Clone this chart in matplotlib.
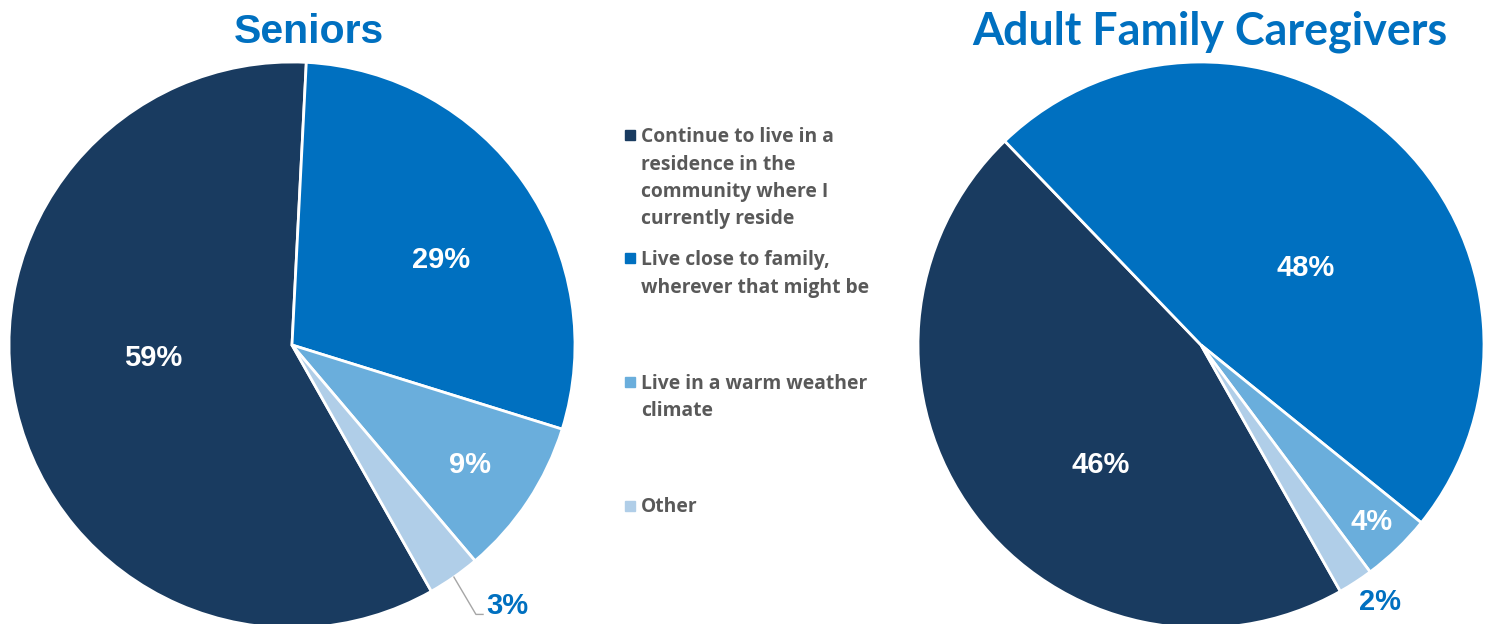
import numpy as np
import matplotlib.pyplot as plt

# data
categories = [
    ["Continue to live in a", "residence in the", "community where I", "currently reside"],
    ["Live close to family,", "wherever that might be"],
    ["Live in a warm weather", "climate"],
    ["Other"],
]
seniors = [59, 29, 9, 3]
caregivers = [46, 48, 4, 2]
titles = ["Seniors", "Adult Family Caregivers"]

colors = ["#193B60", "#0070C0", "#6AAEDC", "#B0CEE8"]
gray = "#595959"
blue = "#0070C0"

W, H = 1493, 624
fig = plt.figure(figsize=(W / 100, H / 100), dpi=100)


def px_axes(cx, cy, r):
    return fig.add_axes([(cx - r) / W, (H - cy - r) / H, 2 * r / W, 2 * r / H])


# label positions in radius units relative to centre (layout only)
label_pos = [
    [(-0.49, -0.046), (0.527, 0.30), (0.629, -0.424), (0.76, -0.922)],
    [(-0.353, -0.424), (0.371, 0.272), (0.604, -0.625), (0.633, -0.908)],
]
outside = [[False, False, False, True], [False, False, False, True]]

centres = [(292, 345), (1201, 345)]
R = 283
for k, vals in enumerate([seniors, caregivers]):
    cx, cy = centres[k]
    ax = px_axes(cx, cy, R)
    wedges, _ = ax.pie(vals, colors=colors, startangle=-60.5, counterclock=False,
                       radius=1.0, wedgeprops=dict(edgecolor="white", linewidth=2))
    ax.set_xlim(-1, 1)
    ax.set_ylim(-1, 1)
    ax.axis("off")
    for i, (v, w) in enumerate(zip(vals, wedges)):
        x, y = label_pos[k][i]
        col = blue if outside[k][i] else "white"
        ax.text(x, y, f"{v}%", ha="center", va="center", fontsize=21,
                fontweight="bold", color=col, family="Liberation Sans",
                clip_on=False)
    if k == 0:
        # leader line for the small slice
        w = wedges[3]
        mid = np.deg2rad((w.theta1 + w.theta2) / 2)
        x0, y0 = np.cos(mid) * 1.0, np.sin(mid) * 1.0
        lx, ly = label_pos[k][3]
        ax.plot([x0, lx - 0.11, lx - 0.085], [y0, ly - 0.03, ly - 0.03],
                color="#A6A6A6", lw=1, clip_on=False)

fig.text(309 / W, 1 - 32 / H, titles[0], ha="center", va="center",
         fontsize=29.5, fontweight="bold", color=blue, family="Liberation Sans")
fig.text(1210 / W, 1 - 32 / H, titles[1], ha="center", va="center",
         fontsize=32.3, fontweight="bold", color=blue, family="Lato")

# legend
for i, (lines, c) in enumerate(zip(categories, colors)):
    ytop = 135 + i * 123.5
    fig.patches.append(plt.Rectangle((625 / W, 1 - (ytop + 5) / H), 10 / W, 10 / H,
                                     transform=fig.transFigure, color=c))
    for j, line in enumerate(lines):
        fig.text(641 / W, 1 - (ytop + 7 + j * 27.5) / H, line, ha="left",
                 va="baseline", fontsize=13.9, fontweight="bold", color=gray,
                 family="Open Sans")

fig.savefig("out.png", dpi=100, facecolor="white")
